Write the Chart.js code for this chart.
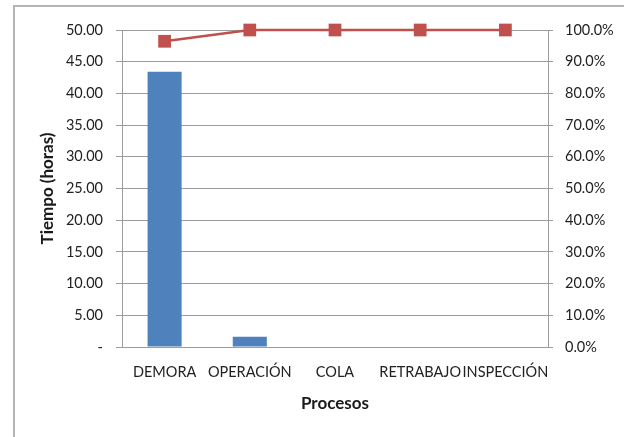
<!DOCTYPE html>
<html>
<head>
<meta charset="utf-8">
<script src="https://cdn.jsdelivr.net/npm/chart.js@4.4.0/dist/chart.umd.min.js"></script>
<style>
  html, body { margin: 0; padding: 0; background: #fff; }
  #wrap { position: relative; width: 624px; height: 437px; overflow: hidden; }
  #frame {
    position: absolute; left: 13px; top: 5px; width: 700px; height: 500px;
    border-left: 2px solid #b4b4b4; border-top: 2px solid #b4b4b4;
  }
  canvas { position: absolute; left: 0; top: 0; }
</style>
</head>
<body>
<div id="wrap">
  <div id="frame"></div>
  <canvas id="pareto" width="624" height="437"></canvas>
</div>
<script>
// Procesos y horas de cada uno
const procesos = ["DEMORA", "OPERACIÓN", "COLA", "RETRABAJO", "INSPECCIÓN"];
const horas = [43.4, 1.6, 0, 0, 0];
const leftTicks = [0, 5, 10, 15, 20, 25, 30, 35, 40, 45, 50];

// porcentaje acumulado para la curva de Pareto
const total = horas.reduce((a, b) => a + b, 0);
let acum = 0;
const porcentajeAcum = horas.map((h) => {
  acum += h;
  return (acum / total) * 100;
});

const tickFont = { family: "Lato", size: 14.5 };
const titleFont = { family: "Lato", size: 17, weight: "bold" };
const gridColor = "#9c9c9c";
const textColor = "#222";

const ctx = document.getElementById("pareto").getContext("2d");
new Chart(ctx, {
  data: {
    labels: procesos,
    datasets: [
      {
        type: "line",
        label: "% acumulado",
        data: porcentajeAcum,
        yAxisID: "y1",
        borderColor: "#c0504d",
        backgroundColor: "#c0504d",
        borderWidth: 2.5,
        pointStyle: "rect",
        pointRadius: 9,
        pointBorderWidth: 0,
        clip: false,
        order: 0,
      },
      {
        type: "bar",
        label: "Tiempo",
        data: horas,
        yAxisID: "y",
        backgroundColor: "#4f81bd",
        categoryPercentage: 1,
        barPercentage: 0.4,
        order: 1,
      },
    ],
  },
  options: {
    responsive: false,
    animation: false,
    layout: { padding: { left: 20, right: 0, top: 30, bottom: 0 } },
    plugins: { legend: { display: false }, tooltip: { enabled: false } },
    scales: {
      x: {
        grid: { display: false, drawTicks: false },
        border: { display: true, color: gridColor, width: 1 },
        ticks: { font: tickFont, color: textColor, padding: 17, autoSkip: false, maxRotation: 0 },
        title: { display: true, text: "Procesos", font: titleFont, color: "#1a1a1a", padding: { top: 0, bottom: 23 } },
        afterFit: (axis) => { axis.height = 90; },
      },
      y: {
        position: "left",
        min: 0,
        max: 50,
        afterBuildTicks: (axis) => { axis.ticks = leftTicks.map((v) => ({ value: v })); },
        grid: { color: gridColor, lineWidth: 1, tickLength: 6 },
        border: { display: true, color: gridColor, width: 1 },
        ticks: {
          font: tickFont,
          color: textColor,
          padding: 13,
          callback: (v) => (v === 0 ? "-" : v.toFixed(2)),
        },
        title: { display: true, text: "Tiempo (horas)", font: titleFont, color: "#1a1a1a", padding: { top: 17, bottom: 0 } },
        afterFit: (axis) => { axis.width = 102; },
      },
      y1: {
        position: "right",
        min: 0,
        max: 100,
        ticks: {
          stepSize: 10,
          font: tickFont,
          color: textColor,
          padding: 12,
          callback: (v) => v.toFixed(1) + "%",
        },
        grid: { drawOnChartArea: false, color: gridColor, tickLength: 5 },
        border: { display: true, color: gridColor, width: 1 },
        afterFit: (axis) => { axis.width = 76; },
      },
    },
  },
});
</script>
</body>
</html>
